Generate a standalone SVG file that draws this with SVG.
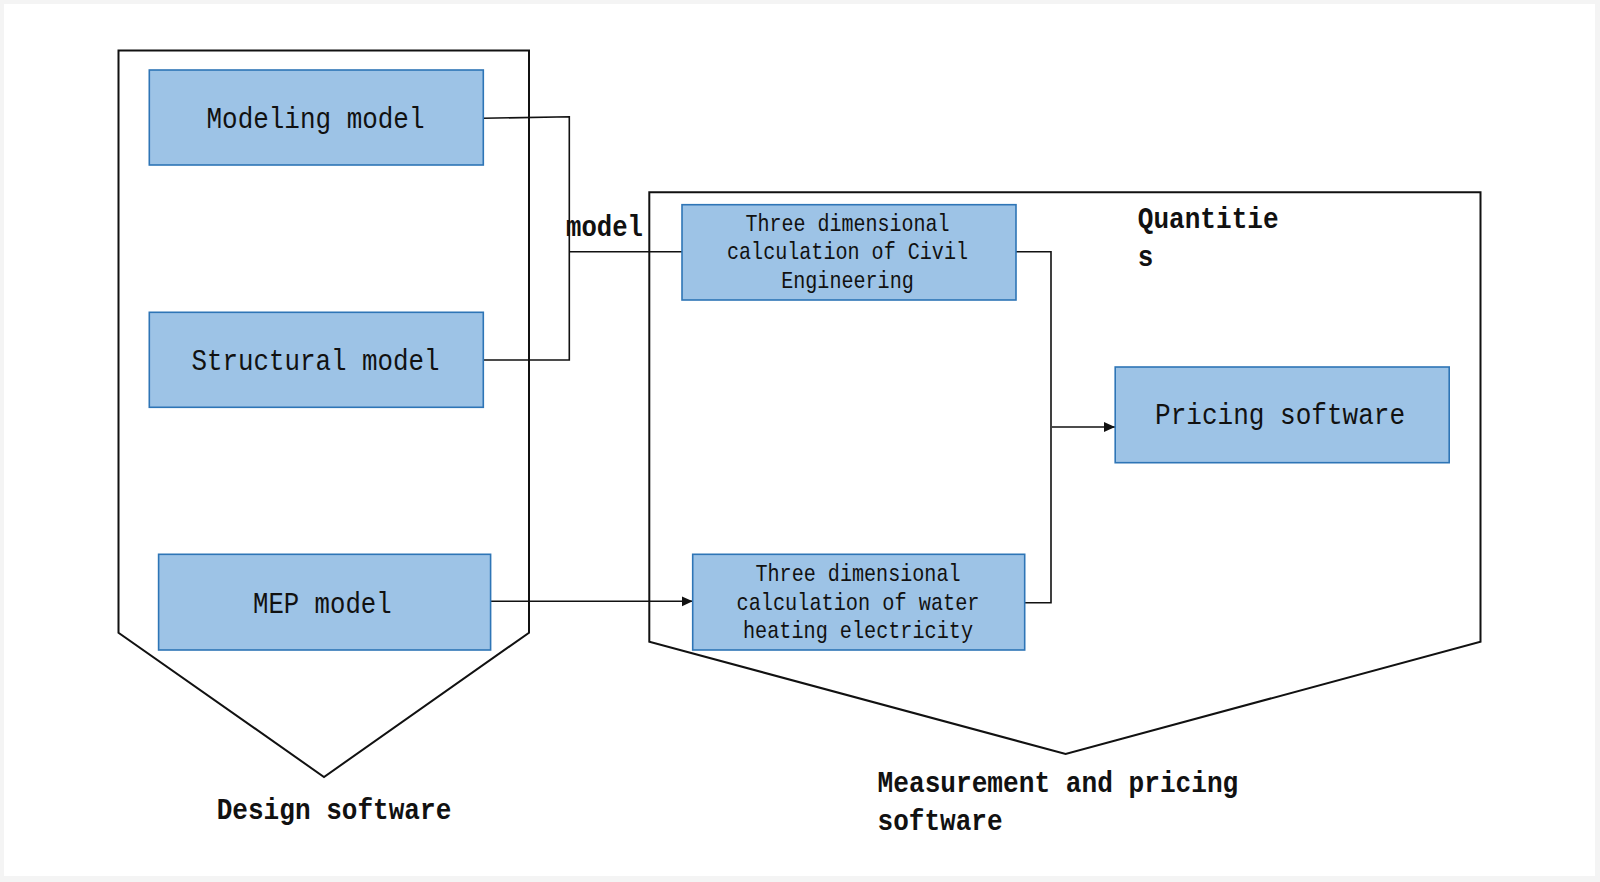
<svg xmlns="http://www.w3.org/2000/svg" width="1600" height="882" viewBox="0 0 1600 882">
<defs>
<style>
.box{fill:#9dc3e6;stroke:#2e75b6;stroke-width:1.6}
.frame{fill:none;stroke:#111;stroke-width:2}
.conn{fill:none;stroke:#111;stroke-width:1.6}
.t{font-family:"Liberation Mono","DejaVu Sans Mono",monospace;fill:#111}
.lbl{font-size:30px;text-anchor:middle}
.small{font-size:24px;text-anchor:middle}
.bold{font-size:29px;font-weight:bold}
</style>
<marker id="arr" markerUnits="userSpaceOnUse" markerWidth="12" markerHeight="12" refX="11" refY="5" orient="auto">
<path d="M0,0 L11,5 L0,10 Z" fill="#111"/>
</marker>
</defs>
<rect x="0" y="0" width="1600" height="882" fill="#f4f4f4"/>
<rect x="4" y="4" width="1591" height="872" fill="#ffffff"/>

<g id="design-software">
<path class="frame" d="M118.5,50.5 L529,50.5 L529,632.7 L324,777 L118.5,632.7 Z"/>
<text class="t bold" x="216.7" y="819.3" textLength="234.6" lengthAdjust="spacingAndGlyphs">Design software</text>
</g>
<g id="measurement-pricing">
<path class="frame" d="M649.3,192.3 L1480.5,192.3 L1480.5,641.7 L1065.6,754 L649.3,641.7 Z"/>
<text class="t bold" x="877.6" y="791.7" textLength="360.7" lengthAdjust="spacingAndGlyphs">Measurement and pricing</text>
<text class="t bold" x="877.6" y="830" textLength="125" lengthAdjust="spacingAndGlyphs">software</text>
</g>

<g id="connectors">
<path class="conn" d="M483,118.3 L569.3,116.7 L569.3,360 L483,360"/>
<path class="conn" d="M569.3,251.7 L682,251.7"/>
<path class="conn" d="M1016,251.7 L1051,251.7 L1051,602.7 L1024.6,602.7"/>
<path class="conn" d="M1052,427 L1115,427" marker-end="url(#arr)"/>
<path class="conn" d="M490.7,601.3 L692.7,601.3" marker-end="url(#arr)"/>
<text class="t bold" x="566" y="236" textLength="77" lengthAdjust="spacingAndGlyphs">model</text>
<text class="t bold" x="1137.8" y="228.3" textLength="140.8" lengthAdjust="spacingAndGlyphs">Quantitie</text>
<text class="t bold" x="1137.8" y="265.7" textLength="15.6" lengthAdjust="spacingAndGlyphs">s</text>
</g>

<g id="modeling-model">
<rect class="box" x="149.3" y="70" width="334" height="95"/>
<text class="t lbl" x="315.5" y="127.7" textLength="218" lengthAdjust="spacingAndGlyphs">Modeling model</text>
</g>
<g id="structural-model">
<rect class="box" x="149.3" y="312.3" width="334" height="95"/>
<text class="t lbl" x="315.5" y="370" textLength="248" lengthAdjust="spacingAndGlyphs">Structural model</text>
</g>
<g id="mep-model">
<rect class="box" x="158.6" y="554.3" width="332" height="95.7"/>
<text class="t lbl" x="322.3" y="612.7" textLength="138.6" lengthAdjust="spacingAndGlyphs">MEP model</text>
</g>
<g id="civil-calc">
<rect class="box" x="682" y="204.7" width="334" height="95.3"/>
<text class="t small" x="847.5" y="230.7" textLength="204" lengthAdjust="spacingAndGlyphs">Three dimensional</text>
<text class="t small" x="847.5" y="259.3" textLength="241" lengthAdjust="spacingAndGlyphs">calculation of Civil</text>
<text class="t small" x="847.5" y="288.3" textLength="132.6" lengthAdjust="spacingAndGlyphs">Engineering</text>
</g>
<g id="water-calc">
<rect class="box" x="692.7" y="554.3" width="332" height="95.7"/>
<text class="t small" x="858" y="581" textLength="205" lengthAdjust="spacingAndGlyphs">Three dimensional</text>
<text class="t small" x="858" y="610" textLength="243" lengthAdjust="spacingAndGlyphs">calculation of water</text>
<text class="t small" x="858" y="638.3" textLength="230" lengthAdjust="spacingAndGlyphs">heating electricity</text>
</g>
<g id="pricing-software">
<rect class="box" x="1115.2" y="367" width="334" height="95.7"/>
<text class="t lbl" x="1280" y="424.3" textLength="250" lengthAdjust="spacingAndGlyphs">Pricing software</text>
</g>
</svg>
